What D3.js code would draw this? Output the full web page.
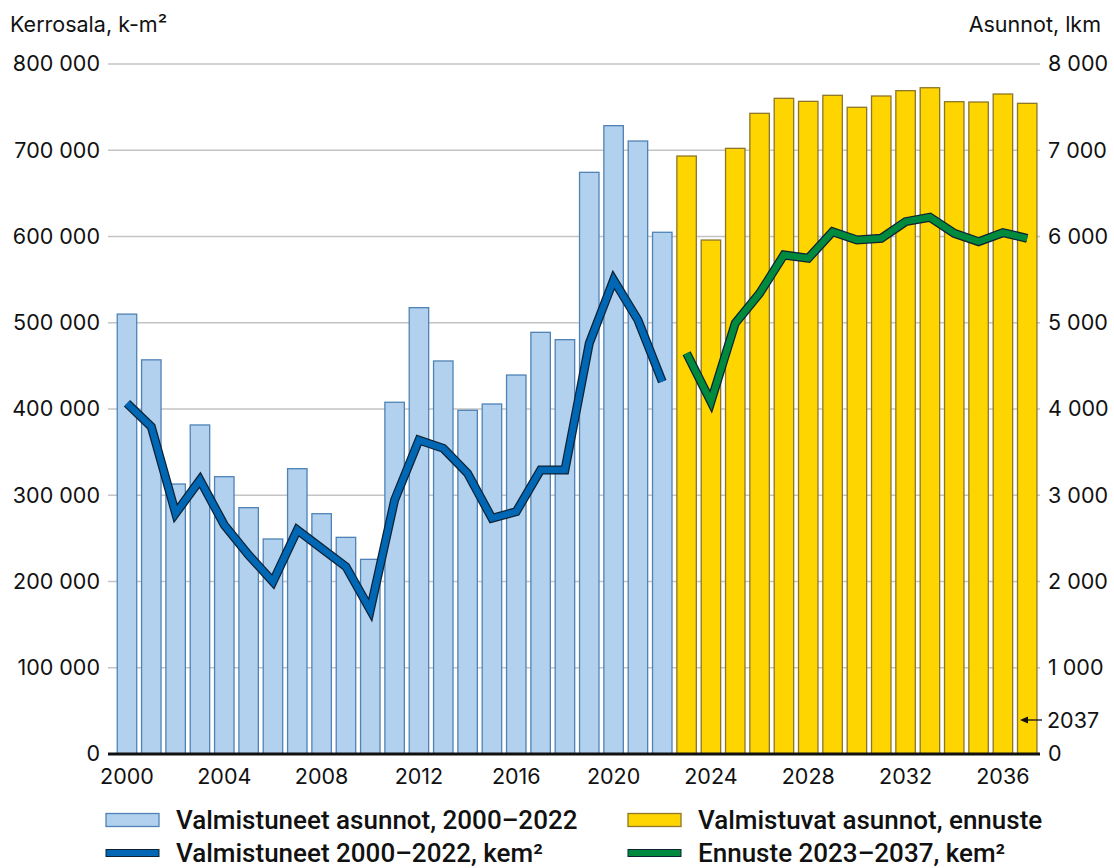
<!DOCTYPE html>
<html>
<head>
<meta charset="utf-8">
<script src="https://cdn.jsdelivr.net/npm/d3@7"></script>
<style>
  body { margin: 0; background: #fff; }
  text { font-family: Inter, "Noto Sans", sans-serif; fill: #111; }
  .tick-label { font-size: 21.5px; }
  .legend-label { font-size: 26px; font-weight: 500; font-family: Roboto, Inter, sans-serif; }
</style>
</head>
<body>
<div id="chart"></div>
<script>
//===============================
//  1.  Data
//===============================

var years = d3.range(2000, 2038);

// completed dwellings 2000-2022 (lkm, right axis)
var pastDwellings = [5100, 4570, 3130, 3815, 3215, 2856, 2493, 3308, 2786, 2512,
  2257, 4078, 5175, 4557, 3985, 4058, 4394, 4889, 4804, 6744, 7285, 7107, 6049];

// forecast dwellings 2023-2037 (lkm, right axis)
var forecastDwellings = [6933, 5959, 7022, 7428, 7602, 7567, 7637, 7498, 7629,
  7691, 7725, 7563, 7559, 7652, 7544];

// completed floor area 2000-2022 (k-m2, left axis)
var pastArea = [406600, 379500, 279000, 317700, 265500, 230700, 199800, 259700,
  238500, 217200, 167000, 294500, 364000, 354400, 325400, 273300, 281000,
  329300, 329300, 476200, 549600, 503200, 431700];

// forecast floor area 2023-2037 (k-m2, left axis)
var forecastArea = [464600, 408500, 499400, 534100, 578600, 574700, 605600,
  596000, 597900, 617200, 622300, 603700, 594000, 604400, 597900];

var leftTicks = [0, 100000, 200000, 300000, 400000, 500000, 600000, 700000, 800000];
var rightTicks = [0, 1000, 2000, 3000, 4000, 5000, 6000, 7000, 8000];
var xTickYears = [2000, 2004, 2008, 2012, 2016, 2020, 2024, 2028, 2032, 2036];

var legendLabels = ["Valmistuneet asunnot, 2000–2022", "Valmistuvat asunnot, ennuste",
  "Valmistuneet 2000–2022, kem²", "Ennuste 2023–2037, kem²"];

//===============================
//  2.  Set up Chart Area
//===============================

var svgWidth = 1114;
var svgHeight = 868;

var plot = { left: 108, right: 1040, top: 64, bottom: 754 };

var svg = d3.select("#chart")
  .append("svg")
  .attr("width", svgWidth)
  .attr("height", svgHeight);

// number formatting with a space as thousands separator
var fmt = function(v) { return d3.format(",")(v).replace(/,/g, " "); };

// *** Scales ***
var xScale = d3.scaleBand()
  .domain(years)
  .range([114.8, 1039.4])
  .paddingInner(0.2)
  .paddingOuter(0.1);

var yLeft = d3.scaleLinear()
  .domain([0, 800000])
  .range([plot.bottom, plot.top]);

var yRight = d3.scaleLinear()
  .domain([0, 8000])
  .range([plot.bottom, plot.top]);

// *** Gridlines ***
svg.append("g")
  .selectAll("line")
  .data(leftTicks.slice(1))
  .enter()
  .append("line")
  .attr("x1", plot.left)
  .attr("x2", plot.right)
  .attr("y1", d => yLeft(d))
  .attr("y2", d => yLeft(d))
  .attr("stroke", "#c4c4c4")
  .attr("stroke-width", 1.5);

// *** Left axis labels ***
var leftAxis = d3.axisLeft(yLeft).tickValues(leftTicks).tickFormat(fmt).tickSize(0).tickPadding(8);
svg.append("g")
  .attr("transform", `translate(${plot.left}, 0)`)
  .call(leftAxis)
  .call(g => g.select(".domain").remove())
  .selectAll("text")
  .attr("class", "tick-label")
  .attr("font-family", null)
  .attr("font-size", null)
  .attr("fill", null);

// *** Right axis labels ***
var rightAxis = d3.axisRight(yRight).tickValues(rightTicks).tickFormat(fmt).tickSize(0).tickPadding(8);
svg.append("g")
  .attr("transform", `translate(${plot.right}, 0)`)
  .call(rightAxis)
  .call(g => g.select(".domain").remove())
  .selectAll("text")
  .attr("class", "tick-label")
  .attr("font-family", null)
  .attr("font-size", null)
  .attr("fill", null);

// axis titles
svg.append("text").attr("class", "tick-label").attr("x", 10).attr("y", 32).text("Kerrosala, k-m²");
svg.append("text").attr("class", "tick-label").attr("x", 1101).attr("y", 32)
  .attr("text-anchor", "end").text("Asunnot, lkm");

//===============================
//  3.  Bars
//===============================

var pastBars = years.slice(0, 23).map((y, i) => ({ year: y, value: pastDwellings[i] }));
var forecastBars = years.slice(23).map((y, i) => ({ year: y, value: forecastDwellings[i] }));

svg.append("g")
  .selectAll("rect")
  .data(pastBars)
  .enter()
  .append("rect")
  .attr("x", d => xScale(d.year))
  .attr("y", d => yRight(d.value))
  .attr("width", xScale.bandwidth())
  .attr("height", d => yRight(0) - yRight(d.value))
  .attr("fill", "#b1d1ef")
  .attr("stroke", "#4f83b5")
  .attr("stroke-width", 1.3);

svg.append("g")
  .selectAll("rect")
  .data(forecastBars)
  .enter()
  .append("rect")
  .attr("x", d => xScale(d.year))
  .attr("y", d => yRight(d.value))
  .attr("width", xScale.bandwidth())
  .attr("height", d => yRight(0) - yRight(d.value))
  .attr("fill", "#ffd500")
  .attr("stroke", "#8c7628")
  .attr("stroke-width", 1.3);

//===============================
//  4.  Lines
//===============================

var line = d3.line()
  .x(d => xScale(d.year) + xScale.bandwidth() / 2)
  .y(d => yLeft(d.value));

var pastLine = years.slice(0, 23).map((y, i) => ({ year: y, value: pastArea[i] }));
var forecastLine = years.slice(23).map((y, i) => ({ year: y, value: forecastArea[i] }));

function drawLine(data, color) {
  svg.append("path")
    .datum(data)
    .attr("d", line)
    .attr("fill", "none")
    .attr("stroke", "#0e2233")
    .attr("stroke-width", 9);
  svg.append("path")
    .datum(data)
    .attr("d", line)
    .attr("fill", "none")
    .attr("stroke", color)
    .attr("stroke-width", 6.5);
}
drawLine(pastLine, "#0067b4");
drawLine(forecastLine, "#008a3e");

// *** X axis ***
svg.append("line")
  .attr("x1", plot.left)
  .attr("x2", plot.right)
  .attr("y1", plot.bottom)
  .attr("y2", plot.bottom)
  .attr("stroke", "#111")
  .attr("stroke-width", 3);

svg.append("g")
  .selectAll("text")
  .data(xTickYears)
  .enter()
  .append("text")
  .attr("class", "tick-label")
  .attr("x", d => xScale(d) + xScale.bandwidth() / 2)
  .attr("y", 784)
  .attr("text-anchor", "middle")
  .text(d => d);

// *** 2037 marker on right axis ***
svg.append("line")
  .attr("x1", 1042).attr("x2", 1025)
  .attr("y1", 720).attr("y2", 720)
  .attr("stroke", "#111").attr("stroke-width", 1.3);
svg.append("path")
  .attr("d", "M1020,720 L1028,716.5 L1028,723.5 Z")
  .attr("fill", "#111");
svg.append("text").attr("class", "tick-label").attr("x", 1047).attr("y", 728).text("2037");

//===============================
//  5.  Legend
//===============================

var legendItems = [
  { x: 106, y: 820, type: "bar", fill: "#b1d1ef", stroke: "#4f83b5" },
  { x: 628, y: 820, type: "bar", fill: "#ffd500", stroke: "#8c7628" },
  { x: 106, y: 853, type: "line", fill: "#0067b4", stroke: "#0e2233" },
  { x: 628, y: 853, type: "line", fill: "#008a3e", stroke: "#0e2233" }
];

legendItems.forEach((d, i) => {
  var h = d.type === "bar" ? 13 : 7;
  svg.append("rect")
    .attr("x", d.x)
    .attr("y", d.y - h / 2)
    .attr("width", 53)
    .attr("height", h)
    .attr("fill", d.fill)
    .attr("stroke", d.stroke)
    .attr("stroke-width", d.type === "bar" ? 1.3 : 1);
  svg.append("text")
    .attr("class", "legend-label")
    .attr("x", d.x + 70)
    .attr("y", d.y + 9)
    .text(legendLabels[i]);
});
</script>
</body>
</html>
